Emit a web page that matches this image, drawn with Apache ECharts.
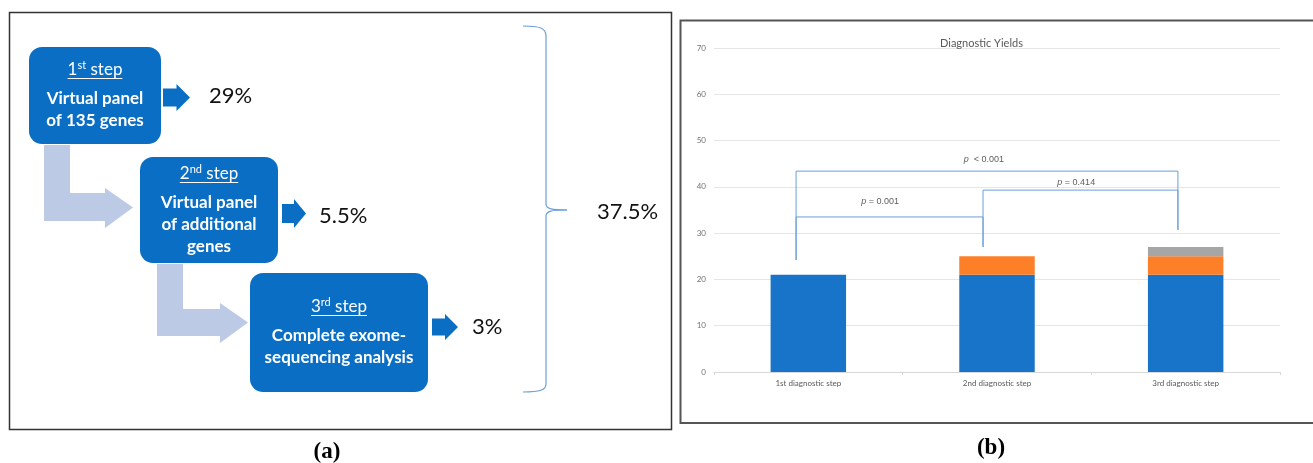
<!DOCTYPE html>
<html><head><meta charset="utf-8">
<script src="https://cdn.jsdelivr.net/npm/echarts@6/dist/echarts.min.js"></script>
<style>html,body{margin:0;padding:0;background:#fff}#c{width:1313px;height:463px}</style>
</head><body><div id="c"></div>
<script>
// ---------- data: panel (b) ----------
const categories = ['1st diagnostic step', '2nd diagnostic step', '3rd diagnostic step'];
const yieldStep1 = [21, 21, 21];
const yieldStep2 = ['-', 4, 4];
const yieldStep3 = ['-', '-', 2];
const yTicks = { min: 0, max: 70, interval: 10 };
// significance brackets, in (category-position, value) units
const bracketAll = [[0.435, 24.2], [0.435, 43.4], [2.459, 43.4], [2.459, 30.7]];
const bracket12 = [[0.435, 24.2], [0.435, 33.5], [1.426, 33.5], [1.426, 27]];
const bracket23 = [[1.426, 27], [1.426, 39.3], [2.459, 39.3], [2.459, 30.7]];
const pLabels = [
  { pos: [1.43, 46], rel: '  < 0.001' },
  { pos: [0.88, 36.9], rel: ' = 0.001' },
  { pos: [1.92, 41], rel: ' = 0.414' }
];
// ---------- data: panel (a) ----------
const stepTitles = [['1', 'st', ' step'], ['2', 'nd', ' step'], ['3', 'rd', ' step']];
const stepBodies = [['Virtual panel', 'of 135 genes'], ['Virtual panel', 'of additional', 'genes'], ['Complete exome-', 'sequencing analysis']];
const stepYields = ['29%', '5.5%', '3%'];
const overallYield = '37.5%';

// ---------- layout / style ----------
const FONT = 'Lato';
const BOX = '#0a6fc4';
const LIGHT = '#bccae6';
const BRACE = '#6a9fd8';
const boxLayout = [
  { x: 29, y: 47, w: 132, h: 97, titleY: 70, lineY: [99, 121], arrow: [163, 84, 27, 27], pct: [209, 96] },
  { x: 140, y: 157, w: 138, h: 106, titleY: 174, lineY: [203, 225, 247], arrow: [282, 199, 24, 29], pct: [319, 216] },
  { x: 250, y: 273, w: 178, h: 119, titleY: 307, lineY: [336, 358], arrow: [432, 314, 26, 26], pct: [472, 327] }
];

const mctx = document.createElement('canvas').getContext('2d');
function tw(t, size, weight) { mctx.font = `${weight} ${size}px ${FONT}`; return mctx.measureText(t).width; }
function txt(t, x, y, size, weight, align, fill, family) {
  return { type: 'text', silent: true, style: { text: t, x: x, y: y, fontSize: size, fontWeight: weight, fontFamily: family || FONT,
    fill: fill || '#fff', textAlign: align, align: align, textVerticalAlign: 'middle', verticalAlign: 'middle' } };
}
function blockArrow(x, y, w, h, fill) {
  const cy = y + h / 2, sh = h * 0.33, hx = x + w * 0.5;
  return { type: 'polygon', silent: true, shape: { points: [[x, cy - sh], [hx, cy - sh], [hx, y], [x + w, cy], [hx, y + h], [hx, cy + sh], [x, cy + sh]] }, style: { fill: fill } };
}

const g = [];
// frame (a)
g.push({ type: 'rect', silent: true, shape: { x: 9.5, y: 12.5, width: 662, height: 417 }, style: { fill: 'none', stroke: '#333', lineWidth: 1.5 } });
// frame (b)
g.push({ type: 'rect', silent: true, shape: { x: 680.5, y: 20.5, width: 640, height: 402.5 }, style: { fill: 'none', stroke: '#555', lineWidth: 2 } });
// light L arrows
g.push({ type: 'polygon', silent: true, shape: { points: [[44, 145], [70, 145], [70, 193], [105, 193], [105, 188], [133, 207.5], [105, 228], [105, 221], [44, 221]] }, style: { fill: LIGHT } });
g.push({ type: 'polygon', silent: true, shape: { points: [[157, 264], [183, 264], [183, 309], [220, 309], [220, 303], [248, 322.5], [220, 343], [220, 336], [157, 336]] }, style: { fill: LIGHT } });

boxLayout.forEach((b, i) => {
  g.push({ type: 'rect', silent: true, shape: { x: b.x, y: b.y, width: b.w, height: b.h, r: 13 }, style: { fill: BOX } });
  const [a, s, c] = stepTitles[i];
  const w1 = tw(a, 17, 'normal'), w2 = tw(s, 11, 'normal'), w3 = tw(c, 17, 'normal');
  const cx = b.x + b.w / 2, x0 = cx - (w1 + w2 + w3) / 2;
  g.push(txt(a, x0, b.titleY, 17, 'normal', 'left'));
  g.push(txt(s, x0 + w1, b.titleY - 5, 11, 'normal', 'left'));
  g.push(txt(c, x0 + w1 + w2, b.titleY, 17, 'normal', 'left'));
  g.push({ type: 'line', silent: true, shape: { x1: x0, y1: b.titleY + 8.5, x2: x0 + w1 + w2 + w3, y2: b.titleY + 8.5 }, style: { stroke: '#fff', lineWidth: 1 } });
  stepBodies[i].forEach((t, j) => g.push(txt(t, cx, b.lineY[j], 17, 'bold', 'center')));
  g.push(blockArrow(b.arrow[0], b.arrow[1], b.arrow[2], b.arrow[3], BOX));
  g.push(txt(stepYields[i], b.pct[0], b.pct[1], 22, 'normal', 'left', '#111'));
});
// brace
const bs = { fill: 'none', stroke: BRACE, lineWidth: 1.2 };
g.push({ type: 'bezierCurve', silent: true, shape: { x1: 523, y1: 26, cpx1: 540, cpy1: 26, cpx2: 546, cpy2: 28, x2: 546, y2: 36 }, style: bs });
g.push({ type: 'line', silent: true, shape: { x1: 546, y1: 36, x2: 546, y2: 204 }, style: bs });
g.push({ type: 'bezierCurve', silent: true, shape: { x1: 546, y1: 204, cpx1: 546, cpy1: 209, cpx2: 552, cpy2: 210, x2: 567, y2: 210 }, style: bs });
g.push({ type: 'bezierCurve', silent: true, shape: { x1: 567, y1: 210, cpx1: 552, cpy1: 210, cpx2: 546, cpy2: 211, x2: 546, y2: 216 }, style: bs });
g.push({ type: 'line', silent: true, shape: { x1: 546, y1: 216, x2: 546, y2: 384 }, style: bs });
g.push({ type: 'bezierCurve', silent: true, shape: { x1: 546, y1: 384, cpx1: 546, cpy1: 390, cpx2: 540, cpy2: 392, x2: 523, y2: 392 }, style: bs });
g.push(txt(overallYield, 597, 212, 22, 'normal', 'left', '#111'));
// panel labels
g.push(txt('(a)', 327, 452, 23, 'bold', 'center', '#000', '"Liberation Serif", "DejaVu Serif", serif'));
g.push(txt('(b)', 991, 448, 23, 'bold', 'center', '#000', '"Liberation Serif", "DejaVu Serif", serif'));

const lineSeries = (d) => ({ type: 'line', xAxisIndex: 1, data: d, symbol: 'none', silent: true, z: 3,
  lineStyle: { color: BRACE, width: 1 }, animation: false });

const chart = echarts.init(document.getElementById('c'), null, { renderer: 'canvas' });
chart.setOption({
  animation: false,
  backgroundColor: '#fff',
  title: { text: 'Diagnostic Yields', left: 940, top: 38, padding: 0,
    textStyle: { fontSize: 11, fontWeight: 'normal', color: '#595959', fontFamily: FONT } },
  grid: { left: 714, right: 33, top: 48, bottom: 91, containLabel: false },
  xAxis: [
    { type: 'category', data: categories, boundaryGap: true,
      axisLine: { lineStyle: { color: '#d9d9d9' } },
      axisTick: { show: true, alignWithLabel: false, length: 3, lineStyle: { color: '#d9d9d9' } },
      axisLabel: { fontSize: 8, color: '#595959', fontFamily: FONT, margin: 7 } },
    { type: 'value', min: 0, max: 3, show: false }
  ],
  yAxis: { type: 'value', min: yTicks.min, max: yTicks.max, interval: yTicks.interval,
    axisLine: { show: false }, axisTick: { show: false },
    axisLabel: { fontSize: 8, color: '#707070', fontFamily: FONT, margin: 8 },
    splitLine: { lineStyle: { color: '#e6e6e6', width: 1 } } },
  graphic: { elements: g },
  series: [
    { type: 'bar', stack: 'y', data: yieldStep1, barWidth: '40%', itemStyle: { color: '#1874c8' } },
    { type: 'bar', stack: 'y', data: yieldStep2, barWidth: '40%', itemStyle: { color: '#fd7f28' } },
    { type: 'bar', stack: 'y', data: yieldStep3, barWidth: '40%', itemStyle: { color: '#a6a6a6' } },
    lineSeries(bracketAll), lineSeries(bracket12), lineSeries(bracket23),
    { type: 'scatter', xAxisIndex: 1, symbolSize: 1, itemStyle: { color: 'rgba(0,0,0,0)' }, silent: true, z: 4,
      data: pLabels.map(p => p.pos),
      label: { show: true, position: 'inside', color: '#333',
        formatter: (p) => '{i|p}{n|' + pLabels[p.dataIndex].rel + '}',
        rich: { i: { fontStyle: 'italic', fontSize: 9, fontFamily: 'Liberation Sans', color: '#333' },
                n: { fontSize: 9, fontFamily: 'Liberation Sans', color: '#333' } } } }
  ]
});
</script>
</body></html>
